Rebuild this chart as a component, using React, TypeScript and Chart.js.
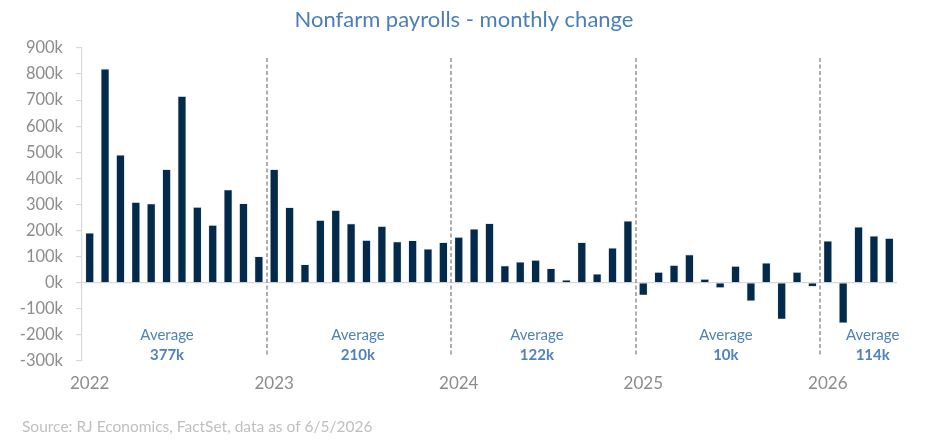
import React, { useEffect, useRef } from "react";
import { Chart, registerables } from "chart.js";

Chart.register(...registerables);

const years = ["2022", "2023", "2024", "2025", "2026"];
const months = ["Jan", "Feb", "Mar", "Apr", "May", "Jun", "Jul", "Aug", "Sep", "Oct", "Nov", "Dec"];

// monthly change, thousands
const values2022 = [191, 820, 490, 309, 303, 435, 715, 290, 221, 357, 304, 101];
const values2023 = [435, 289, 70, 240, 278, 227, 163, 217, 158, 162, 130, 155];
const values2024 = [175, 206, 228, 66, 80, 87, 55, 11, 155, 34, 134, 237];
const values2025 = [-48, 41, 67, 108, 14, -20, 64, -70, 76, -140, 41, -15];
const values2026 = [160, -155, 214, 180, 171];

const yearValues = [values2022, values2023, values2024, values2025, values2026];
const averageLabels = ["377k", "210k", "122k", "10k", "114k"];
// where each average label sits, as a category position
const averageAt = [5.03, 17.44, 29.08, 41.37, 50.92];

const yTicks = [-300, -200, -100, 0, 100, 200, 300, 400, 500, 600, 700, 800, 900];

const titleText = "Nonfarm payrolls - monthly change";
const sourceText = "Source: RJ Economics, FactSet, data as of 6/5/2026";

const categories: string[] = [];
const values: number[] = [];
yearValues.forEach((arr, yi) => {
  arr.forEach((v, mi) => {
    categories.push(months[mi] + " " + years[yi]);
    values.push(v);
  });
});

const FONT = "Lato, 'Open Sans', sans-serif";

const annotPlugin = {
  id: "annot",
  afterDatasetsDraw(chart: any) {
    const { ctx } = chart;
    const x = chart.scales.x;
    const y = chart.scales.y;
    const step = x.getPixelForValue(1) - x.getPixelForValue(0);
    const x0 = x.getPixelForValue(0);
    ctx.save();
    // dashed year dividers
    ctx.setLineDash([4, 2.5]);
    ctx.strokeStyle = "#a6a6a6";
    ctx.lineWidth = 1.8;
    let idx = 0;
    yearValues.forEach((arr, yi) => {
      idx += arr.length;
      if (yi < yearValues.length - 1) {
        const px = Math.round(x0 + (idx - 0.5) * step);
        ctx.beginPath();
        ctx.moveTo(px, y.getPixelForValue(862));
        ctx.lineTo(px, y.getPixelForValue(-275));
        ctx.stroke();
      }
    });
    ctx.setLineDash([]);
    // average labels
    ctx.textAlign = "center";
    ctx.textBaseline = "middle";
    ctx.fillStyle = "#4f81bd";
    averageLabels.forEach((lab, i) => {
      const px = x0 + averageAt[i] * step;
      ctx.font = "15px " + FONT;
      ctx.fillText("Average", px, y.getPixelForValue(-202));
      ctx.font = "bold 15px " + FONT;
      ctx.fillText(lab, px, y.getPixelForValue(-278));
    });
    // title
    ctx.font = "22px " + FONT;
    ctx.fillStyle = "#4a7ebb";
    ctx.fillText(titleText, 464, 20);
    // source
    ctx.textAlign = "left";
    ctx.font = "15.5px " + FONT;
    ctx.fillStyle = "#bfbfbf";
    ctx.fillText(sourceText, 22, 427);
    ctx.restore();
  },
};

export default function App() {
  const ref = useRef<HTMLCanvasElement | null>(null);
  useEffect(() => {
    document.body.style.margin = "0";
    if (!ref.current) return;
    const chart = new Chart(ref.current, {
      type: "bar",
      data: {
        labels: categories,
        datasets: [
          {
            data: values,
            backgroundColor: "#032a4b",
            borderColor: "rgba(200,212,226,0.9)",
            borderWidth: 0.6,
            barPercentage: 0.55,
            categoryPercentage: 1,
          },
        ],
      },
      options: {
        animation: false,
        responsive: true,
        maintainAspectRatio: false,
        layout: { padding: { top: 48, right: 39, left: 0, bottom: 0 } },
        plugins: {
          legend: { display: false },
          title: { display: false },
          tooltip: { enabled: false },
        },
        scales: {
          x: {
            type: "category",
            offset: true,
            afterFit: (s: any) => {
              s.height = 79;
            },
            grid: { display: false, drawTicks: false },
            border: { display: false },
            ticks: {
              autoSkip: false,
              maxRotation: 0,
              minRotation: 0,
              padding: 12,
              color: "#8c8c8c",
              font: { family: FONT, size: 17 },
              callback: (_v: any, i: number) => {
                const c = categories[i];
                return c.startsWith("Jan ") ? c.slice(4) : "";
              },
            },
          },
          y: {
            min: -300,
            max: 900,
            afterFit: (s: any) => {
              s.width = 82;
            },
            afterBuildTicks: (s: any) => {
              s.ticks = yTicks.map((v) => ({ value: v }));
            },
            grid: {
              color: (c: any) => (c.tick && c.tick.value === 0 ? "#d9d9d9" : "rgba(0,0,0,0)"),
              tickColor: "#d9d9d9",
              tickLength: 6,
              lineWidth: 1.2,
            },
            border: { display: true, color: "#d9d9d9", width: 1.2 },
            ticks: {
              padding: 13,
              color: "#8c8c8c",
              font: { family: FONT, size: 16.5 },
              callback: (v: any) => v + "k",
            },
          },
        },
      },
      plugins: [annotPlugin],
    });
    return () => chart.destroy();
  }, []);
  return (
    <div style={{ width: 936, height: 440, position: "relative", background: "#fff" }}>
      <canvas ref={ref} />
    </div>
  );
}
